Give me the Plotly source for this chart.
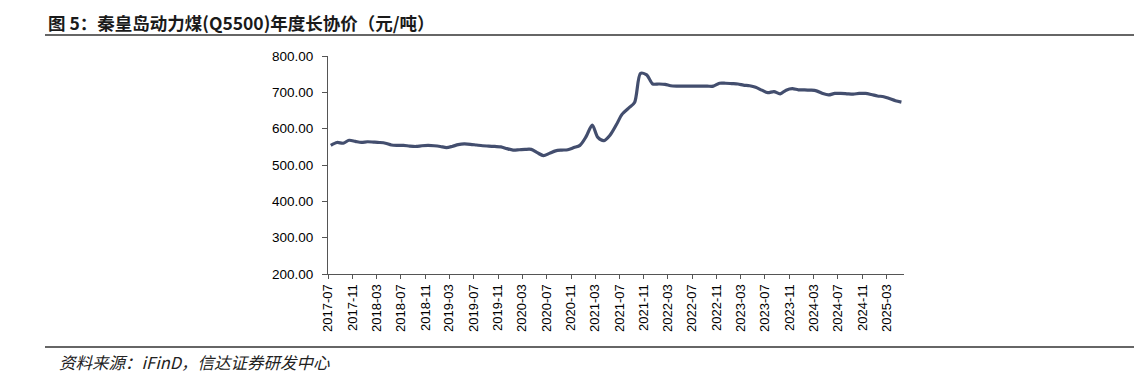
import plotly.graph_objects as go
import pandas as pd

start_month = "2017-07"
n_months = 95
prices = [
    554, 562, 560, 568, 565, 562, 564, 563, 562, 560,
    555, 554, 554, 552, 551, 553, 554, 553, 551, 548,
    551, 556, 558, 557, 555, 553, 552, 551, 550, 545,
    541, 542, 543, 543, 534, 526, 532, 539, 541, 542,
    548, 554, 578, 610, 576, 567, 582, 610, 640, 656,
    672, 752, 748, 723, 723, 722, 718, 717, 717, 717,
    717, 717, 717, 717, 725, 725, 724, 723, 720, 718,
    714, 706, 699, 702, 696, 706, 710, 707, 707, 706,
    704, 697, 693, 697, 697, 696, 695, 697, 697, 694,
    690, 688, 683, 677, 673,
]
dates = pd.date_range(start_month + "-01", periods=n_months, freq="MS") + pd.Timedelta(days=14)

title_text = "图 5：秦皇岛动力煤(Q5500)年度长协价（元/吨）"
source_text = "资料来源：iFinD，信达证券研发中心"

# page has an 8px body margin, so the figure is drawn 8px in from the top-left
W, H = 1134, 368
L, T, PW, PH = 320, 48, 576, 218

def px(x):
    return (x - L) / PW

def py(y):
    return 1 - (y - T) / PH

fig = go.Figure()
fig.add_trace(go.Scatter(
    x=dates, y=prices, mode="lines",
    line=dict(color="#434e6e", width=3.2, shape="spline", smoothing=0.8),
    showlegend=False, hoverinfo="skip",
))

fig.update_layout(
    width=W, height=H,
    margin=dict(l=L, r=W - L - PW, t=T, b=H - T - PH, autoexpand=False),
    paper_bgcolor="white", plot_bgcolor="white",
    xaxis=dict(
        type="date",
        range=["2017-07-01", "2025-05-28"],
        tick0="2017-07-01", dtick="M4", tickformat="%Y-%m",
        tickangle=-90, ticks="outside", ticklen=4, tickcolor="#555555",
        showline=True, linecolor="#555555", linewidth=1,
        showgrid=False, zeroline=False,
        tickfont=dict(family="Liberation Sans, Arial, sans-serif", size=13, color="#000000"),
    ),
    yaxis=dict(
        range=[200, 800], dtick=100, tickformat=".2f",
        ticks="outside", ticklen=5, tickcolor="#555555",
        ticklabelstandoff=6,
        showline=True, linecolor="#555555", linewidth=1,
        showgrid=False, zeroline=False,
        tickfont=dict(family="Liberation Sans, Arial, sans-serif", size=13.5, color="#000000"),
    ),
)

fig.add_annotation(
    text="<b>" + title_text + "</b>", xref="paper", yref="paper",
    x=px(38), y=py(14), xanchor="left", yanchor="middle",
    showarrow=False, font=dict(family="Noto Sans CJK SC", size=17.5, color="#1a1a1a"),
)
fig.add_annotation(
    text="<i>" + source_text + "</i>", xref="paper", yref="paper",
    x=px(49), y=py(354), xanchor="left", yanchor="middle",
    showarrow=False, font=dict(family="Noto Sans CJK SC", size=16.5, color="#222222"),
)
fig.add_shape(type="line", xref="paper", yref="paper",
              x0=px(37), x1=px(W), y0=py(27), y1=py(27),
              line=dict(color="#333333", width=1.5))
fig.add_shape(type="line", xref="paper", yref="paper",
              x0=px(37), x1=px(W), y0=py(339), y1=py(339),
              line=dict(color="#333333", width=1.5))

fig.write_html("out.html")
